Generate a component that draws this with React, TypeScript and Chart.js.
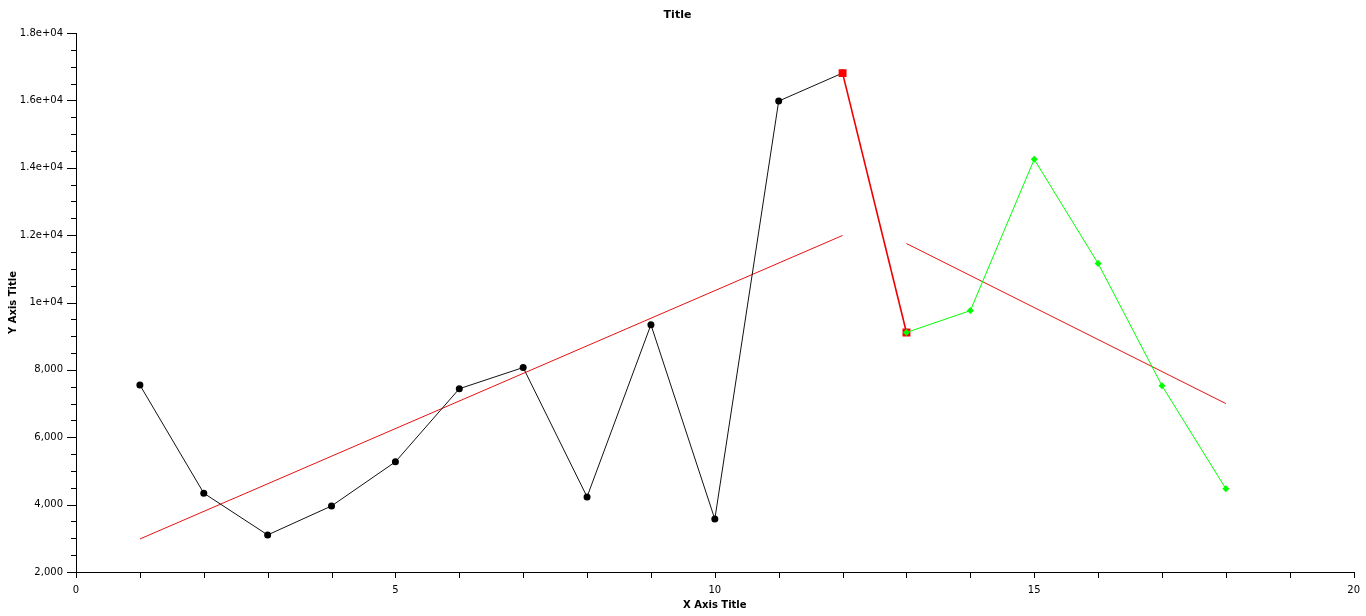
import React, { useEffect, useRef } from "react";
import { Chart, registerables } from "chart.js";

Chart.register(...registerables);

const mainX = [1, 2, 3, 4, 5, 6, 7, 8, 9, 10, 11, 12];
const mainY = [7550, 4340, 3100, 3960, 5270, 7440, 8070, 4230, 9340, 3570, 15980, 16810];
const redX = [12, 13];
const redY = [16810, 9110];
const greenX = [13, 14, 15, 16, 17, 18];
const greenY = [9110, 9760, 14250, 11160, 7530, 4470];
const trend1X = [1, 12];
const trend1Y = [2980, 11990];
const trend2X = [13, 18];
const trend2Y = [11750, 7000];

const FONT = "'DejaVu Sans', Verdana, sans-serif";

function pts(xs: number[], ys: number[]) {
  return xs.map((x, i) => ({ x, y: ys[i] }));
}

function yLabel(v: number): string {
  if (v % 2000 !== 0) return "";
  if (v < 10000) return v.toLocaleString("en-US");
  const m = v / 10000;
  return String(m) + "e+04";
}

const tickPlugin = {
  id: "customTicks",
  afterDraw(chart: any) {
    const { ctx, scales } = chart;
    const x = scales.x;
    const y = scales.y;
    ctx.save();
    ctx.strokeStyle = "#000";
    ctx.lineWidth = 1;
    ctx.beginPath();
    for (let v = x.min; v <= x.max; v += 1) {
      const px = Math.round(x.getPixelForValue(v)) + 0.5;
      ctx.moveTo(px, x.top);
      ctx.lineTo(px, x.top + 6);
    }
    for (let v = y.min; v <= y.max; v += 500) {
      const py = Math.round(y.getPixelForValue(v)) + 0.5;
      const len = v % 2000 === 0 ? 9 : 5;
      ctx.moveTo(y.right, py);
      ctx.lineTo(y.right - len, py);
    }
    ctx.stroke();
    ctx.restore();
  },
};

export default function App() {
  const ref = useRef<HTMLCanvasElement | null>(null);
  useEffect(() => {
    if (!ref.current) return;
    const chart = new Chart(ref.current, {
      type: "scatter",
      data: {
        datasets: [
          {
            data: pts(greenX, greenY),
            showLine: true,
            borderColor: "#00ff00",
            backgroundColor: "#00ff00",
            borderWidth: 1,
            pointStyle: "rectRot",
            pointRadius: 3.5,
            pointBorderWidth: 0,
            order: 0,
          },
          {
            data: pts(redX, redY),
            showLine: true,
            borderColor: "#ee0000",
            backgroundColor: "#ff0000",
            borderWidth: 1.6,
            pointStyle: "rect",
            pointRadius: 5.6,
            pointBorderWidth: 0,
            order: 1,
          },
          {
            data: pts(mainX, mainY),
            showLine: true,
            borderColor: "#111",
            backgroundColor: "#000",
            borderWidth: 1,
            pointStyle: "circle",
            pointRadius: 3.5,
            pointBorderWidth: 0,
            order: 2,
          },
          {
            data: pts(trend1X, trend1Y),
            showLine: true,
            borderColor: "#e81010",
            borderWidth: 1,
            pointRadius: 0,
            order: 3,
          },
          {
            data: pts(trend2X, trend2Y),
            showLine: true,
            borderColor: "#e81010",
            borderWidth: 1,
            pointRadius: 0,
            order: 3,
          },
        ],
      },
      options: {
        animation: false,
        responsive: true,
        maintainAspectRatio: false,
        layout: { padding: { left: 0, right: 11, top: 0, bottom: 0 } },
        plugins: {
          legend: { display: false },
          tooltip: { enabled: false },
          title: {
            display: true,
            text: "Title",
            color: "#000",
            font: { family: FONT, size: 11, weight: "bold" },
            padding: { top: 9, bottom: 10.8 },
          },
        },
        scales: {
          x: {
            type: "linear",
            min: 0,
            max: 20,
            afterFit: (s: any) => {
              s.height = 44;
            },
            border: { display: true, color: "#000", width: 1 },
            grid: { display: true, drawOnChartArea: false, color: "rgba(0,0,0,0)", tickLength: 6 },
            ticks: {
              stepSize: 1,
              autoSkip: false,
              maxRotation: 0,
              padding: 6,
              color: "#000",
              font: { family: FONT, size: 10 },
              callback: (v: any) => (Number(v) % 5 === 0 ? String(v) : ""),
            },
            title: {
              display: true,
              text: "X Axis Title",
              color: "#000",
              font: { family: FONT, size: 10, weight: "bold" },
              padding: { top: 0, bottom: 5 },
            },
          },
          y: {
            type: "linear",
            min: 2000,
            max: 18000,
            afterFit: (s: any) => {
              s.width = 76;
            },
            border: { display: true, color: "#000", width: 1 },
            grid: { display: true, drawOnChartArea: false, color: "rgba(0,0,0,0)", tickLength: 9 },
            ticks: {
              stepSize: 500,
              autoSkip: false,
              padding: 4,
              color: "#000",
              font: { family: FONT, size: 10 },
              callback: (v: any) => yLabel(Number(v)),
            },
            title: {
              display: true,
              text: "Y Axis Title",
              color: "#000",
              font: { family: FONT, size: 10, weight: "bold" },
              padding: { top: 7, bottom: 0 },
            },
          },
        },
      },
      plugins: [tickPlugin],
    });
    return () => chart.destroy();
  }, []);
  return (
    <div style={{ position: "absolute", left: 0, top: 0, width: 1366, height: 616 }}>
      <canvas ref={ref} />
    </div>
  );
}
